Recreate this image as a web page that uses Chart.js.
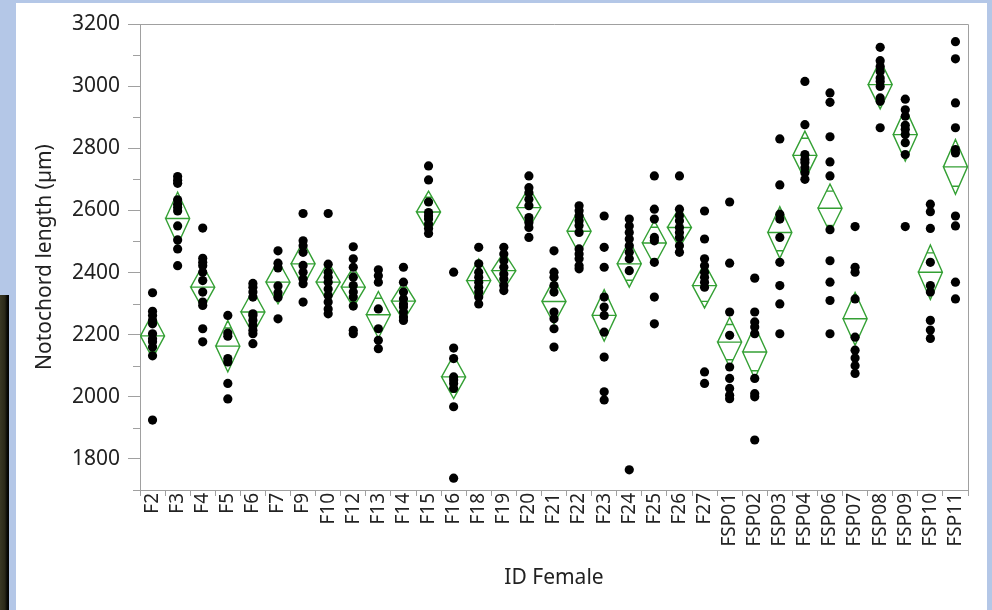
<!DOCTYPE html>
<html>
<head>
<meta charset="utf-8">
<title>Notochord length by female</title>
<script src="https://cdn.jsdelivr.net/npm/chart.js@4.4.1/dist/chart.umd.min.js"></script>
<style>
  html, body { margin: 0; padding: 0; }
  body { width: 992px; height: 610px; background: #b4c7e7; position: relative; overflow: hidden; }
  #panel { position: absolute; left: 16px; top: 3px; width: 971px; height: 607px; background: #fff; }
  #strip { position: absolute; left: 0; top: 295px; width: 9px; height: 315px;
           background: linear-gradient(to right, #3a3824, #2a2818 55%, #0a0a06 78%, #000); }
  #chart { position: absolute; left: 0; top: 0; }
</style>
</head>
<body>
<div id="panel"></div>
<div id="strip"></div>
<canvas id="chart" width="992" height="610"></canvas>
<script>
const groups = ['F2', 'F3', 'F4', 'F5', 'F6', 'F7', 'F9', 'F10', 'F12', 'F13', 'F14', 'F15', 'F16',
  'F18', 'F19', 'F20', 'F21', 'F22', 'F23', 'F24', 'F25', 'F26', 'F27', 'FSP01', 'FSP02', 'FSP03',
  'FSP04', 'FSP06', 'FSP07', 'FSP08', 'FSP09', 'FSP10', 'FSP11'];

// individual notochord lengths (µm), one list per female, same order as groups
const lengths = [
  [2335, 2275, 2262, 2246, 2235, 2203, 2187, 2177, 2160, 2132, 1925],
  [2709, 2697, 2687, 2634, 2620, 2609, 2598, 2550, 2505, 2476, 2422],
  [2543, 2446, 2433, 2422, 2401, 2374, 2337, 2305, 2294, 2219, 2177],
  [2262, 2205, 2195, 2123, 2112, 2043, 1993],
  [2365, 2353, 2337, 2321, 2267, 2262, 2246, 2230, 2214, 2203, 2171],
  [2470, 2430, 2415, 2357, 2335, 2320, 2251],
  [2590, 2502, 2486, 2465, 2423, 2401, 2379, 2364, 2305],
  [2590, 2427, 2401, 2385, 2369, 2347, 2326, 2305, 2283, 2267],
  [2483, 2444, 2417, 2385, 2358, 2337, 2321, 2292, 2214, 2203],
  [2409, 2390, 2369, 2283, 2219, 2182, 2155],
  [2417, 2369, 2337, 2315, 2299, 2289, 2273, 2257, 2246],
  [2743, 2698, 2627, 2593, 2582, 2572, 2556, 2542, 2526],
  [2401, 2157, 2123, 2064, 2054, 2043, 2027, 1968, 1738],
  [2481, 2428, 2401, 2385, 2369, 2353, 2337, 2321, 2299],
  [2481, 2460, 2438, 2417, 2395, 2379, 2358, 2342],
  [2711, 2673, 2657, 2636, 2615, 2577, 2561, 2545, 2513],
  [2470, 2401, 2385, 2358, 2337, 2273, 2251, 2219, 2160],
  [2615, 2599, 2583, 2567, 2551, 2529, 2476, 2460, 2444, 2422, 2412],
  [2582, 2481, 2417, 2321, 2289, 2262, 2208, 2128, 2016, 1990],
  [2572, 2550, 2529, 2508, 2486, 2465, 2444, 2406, 1765],
  [2711, 2604, 2572, 2513, 2502, 2433, 2321, 2235],
  [2711, 2604, 2583, 2567, 2545, 2529, 2513, 2486, 2465],
  [2598, 2508, 2444, 2422, 2401, 2385, 2369, 2353, 2080, 2043],
  [2627, 2430, 2273, 2198, 2096, 2059, 2027, 2005, 1994],
  [2382, 2273, 2241, 2225, 2203, 2059, 2010, 2000, 1861],
  [2830, 2682, 2588, 2572, 2513, 2433, 2358, 2299, 2203],
  [3015, 2876, 2780, 2764, 2754, 2737, 2721, 2700],
  [2978, 2948, 2837, 2756, 2711, 2538, 2438, 2369, 2310, 2203],
  [2548, 2417, 2401, 2315, 2192, 2150, 2125, 2100, 2075],
  [3125, 3082, 3063, 3047, 3026, 3015, 2999, 2962, 2951, 2866],
  [2958, 2924, 2903, 2874, 2861, 2844, 2818, 2780, 2548],
  [2620, 2596, 2542, 2433, 2358, 2337, 2246, 2215, 2188],
  [3143, 3088, 2946, 2866, 2796, 2785, 2582, 2550, 2369, 2315],
];

// group means and 95% CI half widths for the means diamonds
const groupMeans = [2196, 2574, 2353, 2163, 2273, 2369, 2428, 2369, 2353, 2264, 2308, 2595, 2064,
  2374, 2406, 2609, 2307, 2533, 2262, 2428, 2495, 2545, 2358, 2176, 2144, 2529,
  2777, 2607, 2251, 3005, 2844, 2401, 2740];
const ciHalfWidths = [72, 85, 70, 83, 70, 70, 72, 65, 65, 75, 62, 67, 70,
  70, 60, 65, 72, 72, 83, 75, 72, 64, 72, 80, 85, 83,
  78, 78, 85, 78, 85, 88, 88];

const yTicks = [1800, 2000, 2200, 2400, 2600, 2800, 3000, 3200];

const GREEN = 'rgb(52, 160, 52)';
const AXIS = '#a0a0a0';
const TEXT = '#222';
const FONT = '"Segoe UI", "Noto Sans", sans-serif';

const points = [];
lengths.forEach((vals, i) => vals.forEach(v => points.push({ x: i, y: v })));

// each diamond: outline, mean line, then the two overlap marks
const HALF = 0.48;
const diamonds = [];
groupMeans.forEach((m, i) => {
  const ci = ciHalfWidths[i];
  const h = ci / Math.SQRT2;
  const w = HALF * (1 - 1 / Math.SQRT2);
  diamonds.push(
    { x: i - HALF, y: m }, { x: i, y: m + ci }, { x: i + HALF, y: m }, { x: i, y: m - ci },
    { x: i - HALF, y: m }, { x: i + HALF, y: m }, { x: i, y: null },
    { x: i - w, y: m + h }, { x: i + w, y: m + h }, { x: i, y: null },
    { x: i - w, y: m - h }, { x: i + w, y: m - h }, { x: i, y: null }
  );
});

// top/right frame and the unlabelled ticks every 100
const plotFrame = {
  id: 'plotFrame',
  afterDraw(chart) {
    const { ctx, chartArea: a, scales: { y } } = chart;
    ctx.save();
    ctx.strokeStyle = AXIS;
    ctx.lineWidth = 1;
    ctx.beginPath();
    ctx.moveTo(a.left, a.top + 0.5);
    ctx.lineTo(a.right + 0.5, a.top + 0.5);
    ctx.lineTo(a.right + 0.5, a.bottom);
    for (let v = 1700; v < 3200; v += 200) {
      const py = Math.round(y.getPixelForValue(v)) + 0.5;
      ctx.moveTo(a.left - 7, py);
      ctx.lineTo(a.left, py);
    }
    ctx.stroke();
    ctx.restore();
  }
};

new Chart(document.getElementById('chart'), {
  type: 'scatter',
  data: {
    datasets: [
      {
        type: 'scatter',
        data: points,
        pointRadius: 4.6,
        pointHoverRadius: 4.6,
        backgroundColor: '#000',
        borderWidth: 0,
        order: 0,
      },
      {
        type: 'line',
        data: diamonds,
        borderColor: GREEN,
        borderWidth: 1.4,
        pointRadius: 0,
        fill: false,
        tension: 0,
        spanGaps: false,
        order: 1,
      },
    ],
  },
  options: {
    responsive: false,
    animation: false,
    layout: { padding: { left: 32, top: 24, right: 24, bottom: 19 } },
    plugins: { legend: { display: false }, tooltip: { enabled: false } },
    scales: {
      x: {
        type: 'linear',
        min: -0.5,
        max: groups.length - 0.5,
        afterBuildTicks: scale => { scale.ticks = groups.map((_, i) => ({ value: i })); },
        afterFit: scale => { scale.height = 101; },
        ticks: {
          callback: v => groups[v],
          autoSkip: false,
          minRotation: 90,
          maxRotation: 90,
          padding: -3,
          color: TEXT,
          font: { family: FONT, size: 19 },
        },
        grid: { offset: true, drawOnChartArea: false, tickLength: 6, color: AXIS },
        border: { color: AXIS },
        title: { display: true, text: 'ID Female', color: TEXT, padding: 0, font: { family: FONT, size: 21 } },
      },
      y: {
        min: 1700,
        max: 3200,
        afterBuildTicks: scale => { scale.ticks = yTicks.map(v => ({ value: v })); },
        afterFit: scale => { scale.width = 108; },
        ticks: { callback: v => String(v), padding: 8, color: TEXT, font: { family: FONT, size: 21 } },
        grid: { drawOnChartArea: false, tickLength: 12, color: AXIS },
        border: { color: AXIS },
        title: { display: true, text: 'Notochord length (µm)', color: TEXT, padding: 0, font: { family: FONT, size: 21 } },
      },
    },
  },
  plugins: [plotFrame],
});
</script>
</body>
</html>
